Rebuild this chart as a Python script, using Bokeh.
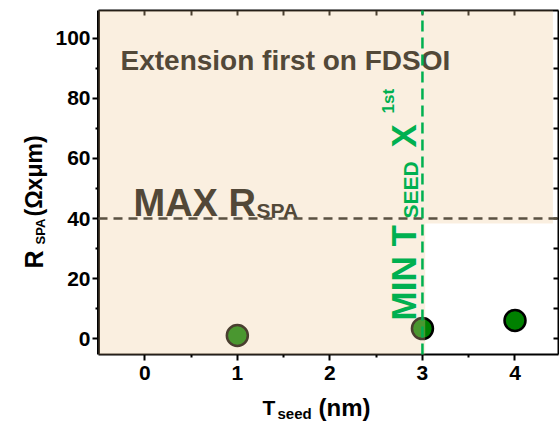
import math
from bokeh.plotting import figure
from bokeh.models import BoxAnnotation, Label, LinearAxis, FixedTicker, Range1d
from bokeh.embed import file_html
from bokeh.resources import INLINE

# ---- data ----
t_seed = [1, 3, 4]
r_spa = [1.0, 3.3, 6.0]
max_rspa = 40
min_tseed = 3
x_ticks = [0, 1, 2, 3, 4]
x_minor = [0.5, 1.5, 2.5, 3.5]
top_ticks = [0, 0.5, 1, 1.5, 2, 2.5, 3, 3.5, 4]
y_ticks = [0, 20, 40, 60, 80, 100]
y_minor = [10, 30, 50, 70, 90]
right_ticks = [0, 10, 20, 30, 40, 50, 60, 70, 80, 90, 100]
shade_x_end = 3.03
shade_y_start = 38.3

# plot-area limits (axis positions)
x_lo, x_hi = -0.5, 4.47
y_lo, y_hi = -5.33, 109.33

FONT = "Liberation Sans"
W, H = 559, 423
# pixel margins of the plot area inside the canvas
ML, MR, MT, MB = 98, 1, 10, 69
ppx = (W - ML - MR) / (x_hi - x_lo)
ppy = (H - MT - MB) / (y_hi - y_lo)

p = figure(width=W, height=H,
           x_range=Range1d(x_lo - ML / ppx, x_hi + MR / ppx),
           y_range=Range1d(y_lo - MB / ppy, y_hi + MT / ppy),
           output_backend="svg", toolbar_location=None,
           x_axis_location=None, y_axis_location=None,
           min_border=0)
p.outline_line_color = None
p.background_fill_color = "white"
p.border_fill_color = "white"
p.grid.visible = False


def base_axis(ax, width):
    ax.axis_line_width = width
    ax.axis_line_color = "black"
    ax.major_tick_line_color = "black"
    ax.minor_tick_line_color = "black"
    ax.major_tick_line_width = 2
    ax.minor_tick_line_width = 2
    ax.major_label_text_font = FONT
    ax.major_label_text_font_style = "bold"
    ax.major_label_text_color = "black"


left = LinearAxis(ticker=FixedTicker(ticks=y_ticks, minor_ticks=y_minor),
                  fixed_location=x_lo, bounds=(y_lo, y_hi))
base_axis(left, 3)
left.major_tick_out = 6
left.major_tick_in = 0
left.minor_tick_out = 3
left.minor_tick_in = 0
left.major_label_text_font_size = "21px"
left.major_label_standoff = 2
p.add_layout(left, "left")

bottom = LinearAxis(ticker=FixedTicker(ticks=x_ticks, minor_ticks=x_minor),
                    fixed_location=y_lo, bounds=(x_lo, x_hi))
base_axis(bottom, 2)
bottom.major_tick_out = 6
bottom.major_tick_in = 0
bottom.minor_tick_out = 3
bottom.minor_tick_in = 0
bottom.major_label_text_font_size = "21px"
bottom.major_label_standoff = 5
p.add_layout(bottom, "below")

top = LinearAxis(ticker=FixedTicker(ticks=top_ticks), fixed_location=y_hi,
                 bounds=(x_lo, x_hi))
base_axis(top, 2)
top.major_tick_out = 0
top.major_tick_in = 5
top.minor_tick_line_color = None
top.major_label_text_font_size = "1px"
top.major_label_text_color = None
top.major_label_standoff = 0
p.add_layout(top, "above")

right = LinearAxis(ticker=FixedTicker(ticks=right_ticks), fixed_location=x_hi,
                   bounds=(y_lo, y_hi))
base_axis(right, 2)
right.major_tick_out = 0
right.major_tick_in = 5
right.minor_tick_line_color = None
right.major_label_text_font_size = "1px"
right.major_label_text_color = None
right.major_label_standoff = 0
p.add_layout(right, "right")

# points (under the translucent shading)
p.scatter(t_seed, r_spa, size=21, fill_color="#008000", line_color="black",
          line_width=2.5)

# translucent shaded region
shade_color = "#EFCB9B"
p.add_layout(BoxAnnotation(left=x_lo, right=shade_x_end, bottom=y_lo, top=y_hi,
                           fill_color=shade_color, fill_alpha=0.31,
                           line_color=None))
p.add_layout(BoxAnnotation(left=shade_x_end, right=x_hi - 0.06,
                           bottom=shade_y_start, top=y_hi,
                           fill_color=shade_color, fill_alpha=0.31,
                           line_color=None))

# reference lines
p.segment(x0=[x_lo], x1=[x_hi], y0=[max_rspa], y1=[max_rspa],
          line_color="#5A5142", line_width=2.5, line_dash="9 6", level="overlay")
p.segment(x0=[min_tseed], x1=[min_tseed], y0=[y_lo], y1=[y_hi],
          line_color="#00B050", line_width=2.5, line_dash="11 6", level="overlay")


def lab(text, wx, wy, size, color="black", angle=0.0):
    # wx, wy: page pixel position of the text's start on its baseline
    p.add_layout(Label(x=wx, y=H - wy, x_units="screen",
                       y_units="screen", text=text,
                       text_font=FONT, text_font_style="bold",
                       text_font_size=size, text_color=color,
                       text_align="left", text_baseline="alphabetic",
                       angle=angle))


brown = "#524838"
lab("Extension first on FDSOI", 120, 60, "28px", brown)
lab("MAX R", 133, 202, "38px", brown)
lab("SPA", 256, 210, "21px", brown)

green = "#00B050"
lab("MIN T", 403, 320, "35px", green, math.pi / 2)
lab("SEED", 410, 218, "21px", green, math.pi / 2)
lab("X", 403, 147, "35px", green, math.pi / 2)
lab("1st", 388, 113, "17px", green, math.pi / 2)

# axis titles
lab("R", 33, 268, "25px", "black", math.pi / 2)
lab("SPA", 40, 244, "13px", "black", math.pi / 2)
lab("(\u03a9x\u03bcm)", 33, 216, "23px", "black", math.pi / 2)

lab("T", 262, 407, "21px")
lab("seed", 277, 413, "15px")
lab("(nm)", 318, 407, "24px")

open("out.html", "w").write(file_html(p, INLINE))
